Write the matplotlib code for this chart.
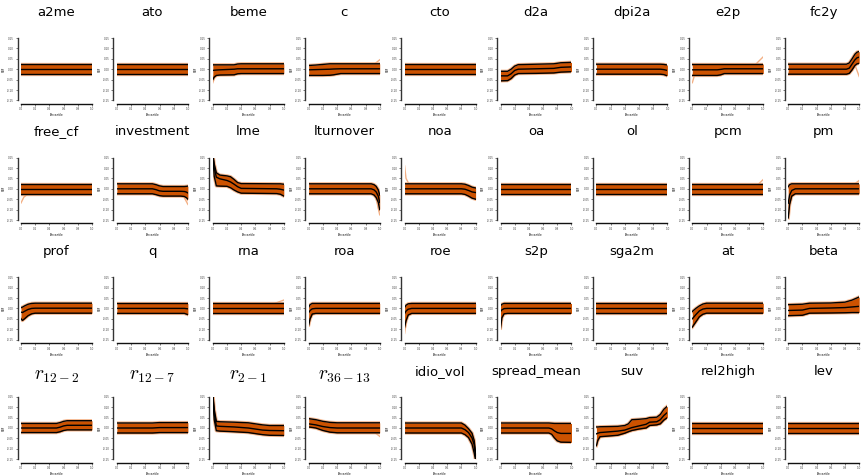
import matplotlib
matplotlib.use('Agg')
import matplotlib.pyplot as plt

plt.rcParams['font.family'] = ['DejaVu Sans']
plt.rcParams['mathtext.fontset'] = 'cm'

# panel order, left to right, top to bottom
names = ['a2me', 'ato', 'beme', 'c', 'cto', 'd2a', 'dpi2a', 'e2p', 'fc2y',
         'free_cf', 'investment', 'lme', 'lturnover', 'noa', 'oa', 'ol', 'pcm', 'pm',
         'prof', 'q', 'rna', 'roa', 'roe', 's2p', 'sga2m', 'at', 'beta',
         'r12_2', 'r12_7', 'r2_1', 'r36_13', 'idio_vol', 'spread_mean', 'suv', 'rel2high', 'lev']
titles = ['a2me', 'ato', 'beme', 'c', 'cto', 'd2a', 'dpi2a', 'e2p', 'fc2y',
          'free_cf', 'investment', 'lme', 'lturnover', 'noa', 'oa', 'ol', 'pcm', 'pm',
          'prof', 'q', 'rna', 'roa', 'roe', 's2p', 'sga2m', 'at', 'beta',
          r'$r_{12-2}$', r'$r_{12-7}$', r'$r_{2-1}$', r'$r_{36-13}$',
          'idio_vol', 'spread_mean', 'suv', 'rel2high', 'lev']

y_ticks = [-0.15, -0.10, -0.05, 0.0, 0.05, 0.10, 0.15]
x_ticks = [0.0, 0.2, 0.4, 0.6, 0.8, 1.0]

# flat panels
flat_x = [0.0, 1.0]
flat_hi = [0.024, 0.024]
flat_mid = [0.0, 0.0]
flat_lo = [-0.024, -0.024]

beme_x = [0, 0.02, 0.05, 0.1, 0.3, 0.35, 0.4, 1.0]
beme_hi = [0.021, 0.021, 0.021, 0.021, 0.021, 0.025, 0.026, 0.026]
beme_mid = [-0.006, -0.005, -0.004, -0.003, 0.0, 0.002, 0.002, 0.002]
beme_lo = [-0.05, -0.038, -0.03, -0.028, -0.027, -0.022, -0.021, -0.021]

c_x = [0, 0.1, 0.2, 0.3, 0.35, 0.45, 1.0]
c_hi = [0.018, 0.02, 0.023, 0.026, 0.026, 0.026, 0.026]
c_mid = [-0.003, -0.002, -0.001, 0.0, 0.001, 0.002, 0.002]
c_lo = [-0.03, -0.03, -0.03, -0.029, -0.027, -0.021, -0.021]

d2a_x = [0, 0.1, 0.15, 0.2, 0.25, 0.5, 0.75, 0.85, 1.0]
d2a_hi = [-0.01, -0.01, 0.0, 0.015, 0.022, 0.024, 0.026, 0.031, 0.033]
d2a_mid = [-0.032, -0.032, -0.022, -0.006, 0.0, 0.002, 0.004, 0.009, 0.011]
d2a_lo = [-0.056, -0.055, -0.045, -0.028, -0.021, -0.02, -0.018, -0.014, -0.012]

dpi2a_x = [0, 0.9, 0.95, 1.0]
dpi2a_hi = [0.024, 0.024, 0.023, 0.02]
dpi2a_mid = [0.0, 0.0, -0.002, -0.006]
dpi2a_lo = [-0.024, -0.024, -0.026, -0.032]

e2p_x = [0, 0.35, 0.4, 0.45, 1.0]
e2p_hi = [0.025, 0.025, 0.025, 0.025, 0.025]
e2p_mid = [-0.003, -0.003, -0.001, 0.002, 0.002]
e2p_lo = [-0.03, -0.03, -0.027, -0.021, -0.021]

fc2y_x = [0, 0.82, 0.86, 0.9, 0.94, 0.97, 1.0]
fc2y_hi = [0.024, 0.024, 0.03, 0.05, 0.072, 0.082, 0.085]
fc2y_mid = [0.0, 0.0, 0.005, 0.025, 0.045, 0.055, 0.058]
fc2y_lo = [-0.024, -0.024, -0.02, -0.003, 0.018, 0.026, 0.028]

investment_x = [0, 0.5, 0.55, 0.6, 0.65, 0.9, 0.95, 0.98, 1.0]
investment_hi = [0.024, 0.024, 0.02, 0.014, 0.011, 0.011, 0.011, 0.012, 0.013]
investment_mid = [0.0, 0.0, -0.004, -0.01, -0.012, -0.012, -0.013, -0.016, -0.02]
investment_lo = [-0.024, -0.024, -0.028, -0.033, -0.035, -0.035, -0.037, -0.043, -0.05]

lme_x = [0, 0.02, 0.05, 0.1, 0.2, 0.25, 0.3, 0.35, 0.4, 0.9, 0.95, 1.0]
lme_hi = [0.17, 0.12, 0.077, 0.066, 0.062, 0.058, 0.045, 0.03, 0.025, 0.024, 0.024, 0.022]
lme_mid = [0.165, 0.1, 0.056, 0.048, 0.04, 0.033, 0.022, 0.01, 0.002, 0.0, -0.002, -0.006]
lme_lo = [0.16, 0.06, 0.014, 0.013, 0.012, 0.005, -0.006, -0.015, -0.021, -0.023, -0.026, -0.035]

lturnover_x = [0, 0.88, 0.92, 0.95, 0.98, 1.0]
lturnover_hi = [0.024, 0.024, 0.02, 0.012, -0.005, -0.03]
lturnover_mid = [0.0, 0.0, -0.005, -0.015, -0.035, -0.065]
lturnover_lo = [-0.024, -0.024, -0.03, -0.042, -0.065, -0.1]

noa_x = [0, 0.8, 0.85, 0.9, 0.95, 1.0]
noa_hi = [0.024, 0.024, 0.022, 0.016, 0.008, 0.004]
noa_mid = [0.0, 0.0, -0.002, -0.008, -0.015, -0.018]
noa_lo = [-0.024, -0.024, -0.027, -0.035, -0.045, -0.05]

pm_x = [0, 0.02, 0.05, 0.1, 1.0]
pm_hi = [0.01, 0.02, 0.024, 0.024, 0.024]
pm_mid = [-0.07, -0.03, -0.008, 0.0, 0.0]
pm_lo = [-0.14, -0.075, -0.035, -0.024, -0.024]

prof_x = [0, 0.02, 0.05, 0.1, 0.15, 0.2, 1.0]
prof_hi = [0.004, 0.006, 0.012, 0.02, 0.024, 0.025, 0.025]
prof_mid = [-0.018, -0.02, -0.014, -0.005, 0.0, 0.001, 0.001]
prof_lo = [-0.05, -0.058, -0.05, -0.035, -0.026, -0.023, -0.023]

q_x = [0, 0.95, 1.0]
q_hi = [0.024, 0.024, 0.024]
q_mid = [0.0, 0.0, -0.002]
q_lo = [-0.024, -0.024, -0.03]

roa_x = [0, 0.02, 0.05, 0.1, 1.0]
roa_hi = [0.006, 0.018, 0.024, 0.024, 0.024]
roa_mid = [-0.02, -0.01, -0.002, 0.0, 0.0]
roa_lo = [-0.08, -0.05, -0.027, -0.024, -0.024]

roe_x = [0, 0.02, 0.05, 0.1, 1.0]
roe_hi = [0.004, 0.015, 0.022, 0.024, 0.024]
roe_mid = [-0.025, -0.013, -0.004, 0.0, 0.0]
roe_lo = [-0.09, -0.06, -0.032, -0.024, -0.024]

s2p_x = [0, 0.02, 0.05, 0.1, 1.0]
s2p_hi = [0.012, 0.02, 0.024, 0.024, 0.024]
s2p_mid = [-0.015, -0.007, -0.001, 0.0, 0.0]
s2p_lo = [-0.095, -0.045, -0.026, -0.024, -0.024]

at_x = [0, 0.05, 0.1, 0.15, 0.2, 1.0]
at_hi = [-0.015, 0.0, 0.012, 0.021, 0.025, 0.025]
at_mid = [-0.05, -0.03, -0.012, -0.003, 0.0, 0.0]
at_lo = [-0.09, -0.065, -0.04, -0.028, -0.023, -0.023]

beta_x = [0, 0.2, 0.3, 0.6, 0.8, 0.9, 1.0]
beta_hi = [0.018, 0.02, 0.025, 0.026, 0.03, 0.04, 0.055]
beta_mid = [-0.01, -0.008, 0.0, 0.002, 0.004, 0.007, 0.01]
beta_lo = [-0.035, -0.033, -0.023, -0.022, -0.021, -0.02, -0.02]

r12_2_x = [0, 0.5, 0.55, 0.6, 0.65, 1.0]
r12_2_hi = [0.022, 0.022, 0.026, 0.032, 0.035, 0.035]
r12_2_mid = [0.0, 0.0, 0.004, 0.01, 0.013, 0.013]
r12_2_lo = [-0.022, -0.022, -0.018, -0.012, -0.009, -0.009]

r12_7_x = [0, 0.5, 0.6, 1.0]
r12_7_hi = [0.024, 0.024, 0.026, 0.026]
r12_7_mid = [0.0, 0.0, 0.002, 0.002]
r12_7_lo = [-0.024, -0.024, -0.022, -0.022]

r2_1_x = [0, 0.02, 0.05, 0.1, 0.3, 0.5, 0.6, 0.7, 0.8, 1.0]
r2_1_hi = [0.17, 0.09, 0.032, 0.03, 0.028, 0.025, 0.02, 0.015, 0.012, 0.012]
r2_1_mid = [0.16, 0.07, 0.01, 0.008, 0.005, 0.0, -0.005, -0.01, -0.012, -0.013]
r2_1_lo = [0.15, 0.04, -0.013, -0.015, -0.018, -0.022, -0.027, -0.032, -0.035, -0.036]

r36_13_x = [0, 0.1, 0.2, 0.3, 0.4, 1.0]
r36_13_hi = [0.045, 0.04, 0.032, 0.027, 0.025, 0.025]
r36_13_mid = [0.02, 0.015, 0.007, 0.002, 0.0, 0.0]
r36_13_lo = [0.005, 0.0, -0.012, -0.02, -0.023, -0.023]

idio_vol_x = [0, 0.8, 0.85, 0.9, 0.95, 0.98, 1.0]
idio_vol_hi = [0.024, 0.024, 0.014, -0.003, -0.025, -0.06, -0.12]
idio_vol_mid = [0.0, 0.0, -0.008, -0.022, -0.048, -0.08, -0.14]
idio_vol_lo = [-0.024, -0.024, -0.032, -0.046, -0.078, -0.12, -0.155]

spread_mean_x = [0, 0.68, 0.72, 0.76, 0.8, 0.85, 1.0]
spread_mean_hi = [0.024, 0.024, 0.023, 0.022, 0.022, 0.022, 0.022]
spread_mean_mid = [0.0, 0.0, -0.004, -0.014, -0.022, -0.026, -0.026]
spread_mean_lo = [-0.024, -0.024, -0.03, -0.048, -0.062, -0.068, -0.069]

suv_x = [0, 0.02, 0.05, 0.3, 0.4, 0.45, 0.5, 0.6, 0.7, 0.75, 0.85, 0.9, 0.95, 1.0]
suv_hi = [0.005, 0.005, 0.006, 0.008, 0.012, 0.02, 0.04, 0.042, 0.045, 0.05, 0.052, 0.065, 0.09, 0.105]
suv_mid = [-0.028, -0.025, -0.022, -0.015, -0.01, -0.004, 0.002, 0.01, 0.018, 0.028, 0.03, 0.04, 0.06, 0.075]
suv_lo = [-0.085, -0.06, -0.042, -0.035, -0.025, -0.018, -0.012, -0.005, 0.0, 0.012, 0.015, 0.02, 0.038, 0.05]

# stray single-run curves (light orange) that leave the band at the ends
free_cf_stray_x = [0, 0.04, 0.1]
free_cf_stray_y = [-0.068, -0.04, -0.024]
noa_stray_x = [0, 0.02, 0.06]
noa_stray_y = [0.11, 0.05, 0.024]
beme_stray_x = [0, 0.03]
beme_stray_y = [-0.065, -0.035]
c_stray_x = [0.93, 1.0]
c_stray_y = [0.026, 0.045]
e2p_stray_x = [0.9, 1.0]
e2p_stray_y = [0.026, 0.06]
e2p_stray2_x = [0, 0.03]
e2p_stray2_y = [-0.065, -0.03]
fc2y_stray_x = [0.94, 1.0]
fc2y_stray_y = [0.02, -0.035]
investment_stray_x = [0.94, 1.0]
investment_stray_y = [-0.037, -0.075]
pcm_stray_x = [0.94, 1.0]
pcm_stray_y = [0.025, 0.045]
pm_stray_x = [0.94, 1.0]
pm_stray_y = [0.025, 0.04]
rna_stray_x = [0.88, 1.0]
rna_stray_y = [0.025, 0.04]
roe_stray_x = [0, 0.03]
roe_stray_y = [-0.12, -0.05]
r36_13_stray_x = [0.94, 1.0]
r36_13_stray_y = [-0.024, -0.04]
lturnover_stray_x = [0.95, 1.0]
lturnover_stray_y = [-0.045, -0.125]

curves = {
    'beme': (beme_x, beme_hi, beme_mid, beme_lo),
    'c': (c_x, c_hi, c_mid, c_lo),
    'd2a': (d2a_x, d2a_hi, d2a_mid, d2a_lo),
    'dpi2a': (dpi2a_x, dpi2a_hi, dpi2a_mid, dpi2a_lo),
    'e2p': (e2p_x, e2p_hi, e2p_mid, e2p_lo),
    'fc2y': (fc2y_x, fc2y_hi, fc2y_mid, fc2y_lo),
    'investment': (investment_x, investment_hi, investment_mid, investment_lo),
    'lme': (lme_x, lme_hi, lme_mid, lme_lo),
    'lturnover': (lturnover_x, lturnover_hi, lturnover_mid, lturnover_lo),
    'noa': (noa_x, noa_hi, noa_mid, noa_lo),
    'pm': (pm_x, pm_hi, pm_mid, pm_lo),
    'prof': (prof_x, prof_hi, prof_mid, prof_lo),
    'q': (q_x, q_hi, q_mid, q_lo),
    'roa': (roa_x, roa_hi, roa_mid, roa_lo),
    'roe': (roe_x, roe_hi, roe_mid, roe_lo),
    's2p': (s2p_x, s2p_hi, s2p_mid, s2p_lo),
    'at': (at_x, at_hi, at_mid, at_lo),
    'beta': (beta_x, beta_hi, beta_mid, beta_lo),
    'r12_2': (r12_2_x, r12_2_hi, r12_2_mid, r12_2_lo),
    'r12_7': (r12_7_x, r12_7_hi, r12_7_mid, r12_7_lo),
    'r2_1': (r2_1_x, r2_1_hi, r2_1_mid, r2_1_lo),
    'r36_13': (r36_13_x, r36_13_hi, r36_13_mid, r36_13_lo),
    'idio_vol': (idio_vol_x, idio_vol_hi, idio_vol_mid, idio_vol_lo),
    'spread_mean': (spread_mean_x, spread_mean_hi, spread_mean_mid, spread_mean_lo),
    'suv': (suv_x, suv_hi, suv_mid, suv_lo),
}

strays = {
    'free_cf': [(free_cf_stray_x, free_cf_stray_y)],
    'noa': [(noa_stray_x, noa_stray_y)],
    'beme': [(beme_stray_x, beme_stray_y)],
    'c': [(c_stray_x, c_stray_y)],
    'e2p': [(e2p_stray_x, e2p_stray_y), (e2p_stray2_x, e2p_stray2_y)],
    'fc2y': [(fc2y_stray_x, fc2y_stray_y)],
    'investment': [(investment_stray_x, investment_stray_y)],
    'pcm': [(pcm_stray_x, pcm_stray_y)],
    'pm': [(pm_stray_x, pm_stray_y)],
    'rna': [(rna_stray_x, rna_stray_y)],
    'roe': [(roe_stray_x, roe_stray_y)],
    'r36_13': [(r36_13_stray_x, r36_13_stray_y)],
    'lturnover': [(lturnover_stray_x, lturnover_stray_y)],
}

ORANGE = '#cc5200'
LIGHT = '#f2a878'

W, H = 862, 476
fig = plt.figure(figsize=(W / 100, H / 100), dpi=100)

for i, name in enumerate(names):
    r, c = divmod(i, 9)
    left = 21 + 95.9 * c
    top = 38 + 119.6 * r
    ax = fig.add_axes([left / W, 1 - (top + 62.4) / H, 71 / W, 62.4 / H])

    x, hi, mid, lo = curves.get(name, (flat_x, flat_hi, flat_mid, flat_lo))
    for sx, sy in strays.get(name, []):
        ax.plot(sx, sy, color=LIGHT, lw=1.0, alpha=0.9, zorder=1)
    ax.plot(x, hi, color=LIGHT, lw=2.4, alpha=0.8, zorder=1)
    ax.plot(x, lo, color=LIGHT, lw=2.4, alpha=0.8, zorder=1)
    ax.fill_between(x, lo, hi, color=ORANGE, lw=0, zorder=2)
    for yy in (hi, mid, lo):
        ax.plot(x, yy, color='black', lw=1.0, zorder=3)

    ax.set_xlim(0, 1)
    ax.set_ylim(-0.15, 0.15)
    ax.set_xticks(x_ticks)
    ax.set_yticks(y_ticks)
    ax.set_xticklabels(['%.1f' % t for t in x_ticks])
    ax.set_yticklabels(['%.2f' % t for t in y_ticks], rotation=90, va='center')
    ax.tick_params(length=1.5, width=0.5, labelsize=2, pad=1, colors='#444444')

    for s in ('top', 'right'):
        ax.spines[s].set_visible(False)
    ax.spines['left'].set_position(('outward', 2.5))
    ax.spines['bottom'].set_position(('outward', 2.5))
    ax.spines['left'].set_bounds(-0.15, 0.15)
    ax.spines['bottom'].set_bounds(0, 1)
    ax.spines['left'].set_linewidth(1.0)
    ax.spines['bottom'].set_linewidth(1.0)
    ax.spines['left'].set_color('#333333')
    ax.spines['bottom'].set_color('#111111')

    ax.set_xlabel('Percentile', fontsize=2, labelpad=1.5)
    ax.set_ylabel('SDF', fontsize=2, labelpad=1)
    if titles[i].startswith('$'):
        ax.set_title(titles[i], fontsize=14, pad=12)
    else:
        ax.set_title(titles[i], fontsize=9.5, pad=16)

fig.savefig('out.png', dpi=100)
